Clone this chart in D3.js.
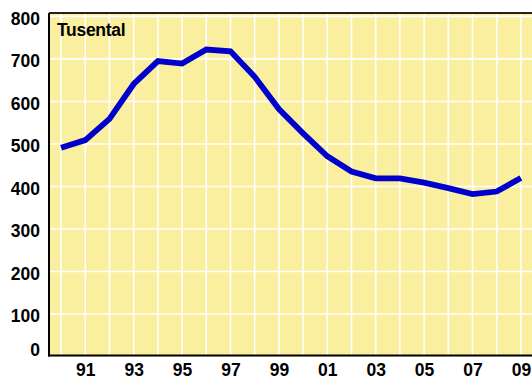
<!DOCTYPE html>
<html>
<head>
<meta charset="utf-8">
<script src="https://cdn.jsdelivr.net/npm/d3@7"></script>
<style>
  html, body { margin: 0; padding: 0; background: #ffffff; }
  svg { display: block; }
  text { font-family: "Liberation Sans", Arial, Helvetica, sans-serif; font-weight: bold; fill: #000; }
</style>
</head>
<body>
<svg id="chart" width="532" height="378"></svg>
<script>
// Yearly series, in thousands
const years = [1990, 1991, 1992, 1993, 1994, 1995, 1996, 1997, 1998, 1999,
               2000, 2001, 2002, 2003, 2004, 2005, 2006, 2007, 2008, 2009];
const values = [491, 509, 559, 641, 695, 689, 722, 718, 658, 582,
                525, 471, 435, 419, 419, 409, 396, 382, 388, 420];
const yTicks = [0, 100, 200, 300, 400, 500, 600, 700, 800];
const xLabelYears = [1991, 1993, 1995, 1997, 1999, 2001, 2003, 2005, 2007, 2009];
const unitLabel = "Tusental";

(function () {
  const svg = d3.select("#chart");
  const plotL = 49, plotR = 533, plotT = 13, plotB = 356.5;

  const x = d3.scaleLinear().domain([1989.5, 2009.5]).range([plotL, plotR]);
  const y = d3.scaleLinear().domain([0, 808]).range([plotB, plotT]);

  // plot background
  svg.append("rect")
    .attr("x", plotL).attr("y", plotT)
    .attr("width", plotR - plotL).attr("height", plotB - plotT)
    .attr("fill", "#FAEE9F");

  // white grid
  const grid = svg.append("g").attr("stroke", "#ffffff").attr("stroke-width", 1.6);
  grid.selectAll("line.v").data(years).join("line").attr("class", "v")
    .attr("x1", d => x(d)).attr("x2", d => x(d))
    .attr("y1", plotT).attr("y2", plotB);
  grid.selectAll("line.h").data(yTicks.filter(d => d > 0)).join("line").attr("class", "h")
    .attr("x1", plotL).attr("x2", plotR)
    .attr("y1", d => y(d)).attr("y2", d => y(d));

  // frame: top, left and bottom edges
  svg.append("line").attr("x1", plotL).attr("x2", plotR).attr("y1", plotT).attr("y2", plotT)
    .attr("stroke", "#222").attr("stroke-width", 1.8);
  svg.append("line").attr("x1", plotL).attr("x2", plotL).attr("y1", plotT).attr("y2", plotB)
    .attr("stroke", "#000").attr("stroke-width", 2);
  svg.append("line").attr("x1", plotL - 1).attr("x2", plotR).attr("y1", plotB - 1).attr("y2", plotB - 1)
    .attr("stroke", "#000").attr("stroke-width", 2);

  // y axis labels
  const yAxis = d3.axisLeft(y).tickValues(yTicks).tickSize(0).tickPadding(9);
  const gy = svg.append("g").attr("transform", `translate(${plotL},0)`).call(yAxis);
  gy.select(".domain").remove();
  gy.selectAll("text")
    .style("font-family", '"Liberation Sans", Arial, sans-serif')
    .style("font-weight", "bold").style("font-size", "17.5px").attr("fill", "#000")
    .attr("dy", d => d === 0 ? "-0.05em" : "0.45em");

  // x axis labels
  const xAxis = d3.axisBottom(x).tickValues(xLabelYears).tickSize(0).tickPadding(0)
    .tickFormat(d => String(d % 100).padStart(2, "0"));
  const gx = svg.append("g").attr("transform", `translate(0,${plotB})`).call(xAxis);
  gx.select(".domain").remove();
  gx.selectAll("text")
    .style("font-family", '"Liberation Sans", Arial, sans-serif')
    .style("font-weight", "bold").style("font-size", "17.5px").attr("fill", "#000")
    .attr("y", 0).attr("dy", "1.1em");

  // series line
  const line = d3.line().x((d, i) => x(years[i])).y(d => y(d));
  svg.append("path")
    .datum(values)
    .attr("d", line)
    .attr("fill", "none")
    .attr("stroke", "#0000CC")
    .attr("stroke-width", 5.8)
    .attr("stroke-linejoin", "miter");

  // unit label
  svg.append("text")
    .attr("x", 57).attr("y", 35.5)
    .style("font-size", "17.5px")
    .style("letter-spacing", "-0.3px")
    .text(unitLabel);
})();
</script>
</body>
</html>
